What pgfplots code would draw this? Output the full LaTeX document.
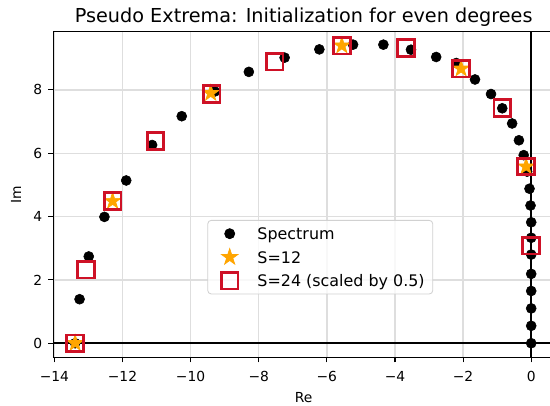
\documentclass[border=0pt]{standalone}
\usepackage{fontspec}
\setmainfont{DejaVu Sans}
\usepackage{pgfplots}
\pgfplotsset{compat=1.18}
\definecolor{sqred}{RGB}{206,17,38}
\definecolor{starorange}{RGB}{255,165,0}
\pgfdeclareplotmark{fstar}{%
  \pgfpathmoveto{\pgfpointpolar{90}{\pgfplotmarksize}}%
  \pgfpathlineto{\pgfpointpolar{126}{0.382\pgfplotmarksize}}%
  \pgfpathlineto{\pgfpointpolar{162}{\pgfplotmarksize}}%
  \pgfpathlineto{\pgfpointpolar{198}{0.382\pgfplotmarksize}}%
  \pgfpathlineto{\pgfpointpolar{234}{\pgfplotmarksize}}%
  \pgfpathlineto{\pgfpointpolar{270}{0.382\pgfplotmarksize}}%
  \pgfpathlineto{\pgfpointpolar{306}{\pgfplotmarksize}}%
  \pgfpathlineto{\pgfpointpolar{342}{0.382\pgfplotmarksize}}%
  \pgfpathlineto{\pgfpointpolar{18}{\pgfplotmarksize}}%
  \pgfpathlineto{\pgfpointpolar{54}{0.382\pgfplotmarksize}}%
  \pgfpathclose
  \pgfusepathqfillstroke
}
\begin{document}
\begin{tikzpicture}
\begin{axis}[
  scale only axis, width=360.5bp, height=234.7bp,
  xmin=-14.03, xmax=0.67, ymin=-0.455, ymax=9.84,
  xtick={-14,-12,-10,-8,-6,-4,-2,0},
  xticklabels={−14,−12,−10,−8,−6,−4,−2,0},
  ytick={0,2,4,6,8}, yticklabels={0,2,4,6,8},
  tick pos=left, tick align=outside, major tick length=3.5bp,
  every tick/.style={black, line width=0.8pt},
  axis line style={line width=0.8pt},
  grid=major, major grid style={black!13, line width=1pt},
  ticklabel style={font=\fontsize{10}{12}\selectfont, inner sep=0pt},
  xticklabel style={anchor=base, yshift=-13.8bp},
  yticklabel style={anchor=east, xshift=-4.3bp},
  xlabel={Re}, ylabel={Im},
  label style={font=\fontsize{10}{12}\selectfont, inner sep=0pt},
  xlabel style={at={(axis description cs:0.5,-0.139)}, anchor=base},
  ylabel style={at={(axis description cs:-0.0746,0.5)}, anchor=center},
  title={Pseudo Extrema: Initialization for even degrees},
  title style={font=\fontsize{13.9}{16}\selectfont, inner sep=0pt, at={(axis description cs:0.5,1.029)}, anchor=base, yshift=-6pt},
  legend cell align=left,
  legend style={at={(axis description cs:0.3076,0.4224)}, anchor=north west,
    draw=black!18, line width=0.6bp, rounded corners=2.5bp, fill=white, fill opacity=0.8, text opacity=1,
    inner xsep=5.8bp, inner ysep=2.6bp, row sep=2.9bp, column sep=10bp,
    font=\fontsize{11.5}{13}\selectfont,
    nodes={inner sep=0pt, text height=8.4bp, text depth=0pt}},
  legend image code/.code={%
    \path[draw=none, fill=none] (0bp,-7bp) rectangle (20bp,7bp);
    \draw[#1, sharp corners, fill opacity=1, draw opacity=1] plot coordinates {(10bp,0bp)};},
]
\addplot[black, line width=1.5pt, forget plot] coordinates {(-20,0) (5,0)};
\addplot[black, line width=1.5pt, forget plot] coordinates {(0,-5) (0,15)};
\addplot[only marks, mark=*, mark size=3.6bp, black] coordinates {
(-13.39,0) (-13.26,1.39) (-12.99,2.74) (-12.53,3.99) (-11.89,5.14) (-11.13,6.26)
(-10.26,7.17) (-9.29,7.95) (-8.29,8.57) (-7.24,9.02) (-6.22,9.28) (-5.23,9.43)
(-4.34,9.43) (-3.53,9.27) (-2.79,9.04) (-2.20,8.85) (-1.65,8.33) (-1.18,7.87)
(-0.85,7.42) (-0.56,6.94) (-0.36,6.41) (-0.22,5.94) (-0.12,5.42) (-0.05,4.88)
(-0.02,4.35) (0,3.82) (0,3.33) (0,2.80) (0,2.19) (0,1.65) (0,1.10) (0,0.55) (0,0)
};
\addlegendentry{Spectrum}
\addplot[only marks, mark=fstar, mark size=6.2bp, draw=starorange, fill=starorange, line width=0.5bp] coordinates {
(-13.39,0) (-12.29,4.49) (-9.41,7.90) (-5.56,9.40) (-2.06,8.67) (-0.15,5.58)
};
\addlegendentry{S=12}
\addplot[only marks, mark=square, mark size=6bp, draw=sqred, line width=2bp] coordinates {
(-13.39,0) (-13.07,2.32) (-12.29,4.49) (-11.03,6.38) (-9.38,7.87) (-7.53,8.89)
(-5.56,9.40) (-3.68,9.33) (-2.06,8.67) (-0.85,7.43) (-0.15,5.58) (0,3.08)
};
\addlegendentry{S=24 (scaled by 0.5)}
\end{axis}
\pgfresetboundingbox
\path[shift={(current axis.south west)}] (-38.4bp,-34.8bp) rectangle (357.6bp,257.5bp);
\end{tikzpicture}
\end{document}
